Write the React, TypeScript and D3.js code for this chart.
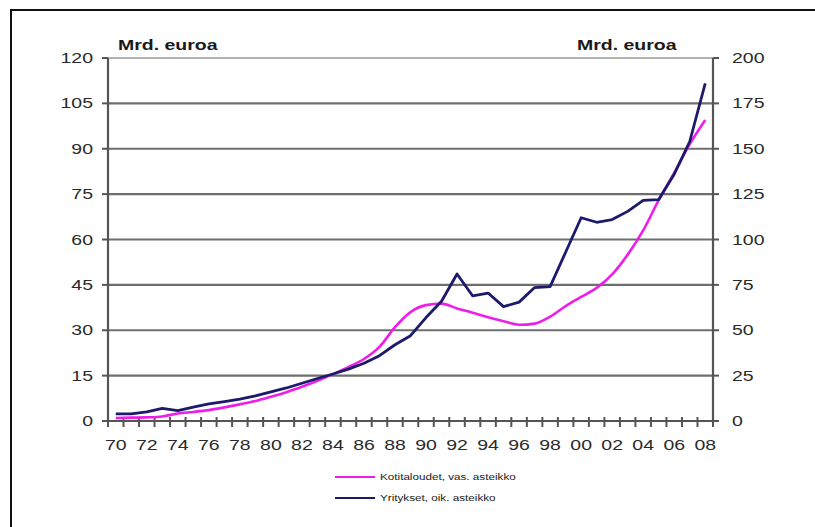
import { curveMonotoneX, curveLinear, line, range, scaleLinear, scalePoint, select } from "d3";
import { useEffect, useRef } from "react";

const years = range(1970, 2009);

// Kotitaloudet, left axis (Mrd. euroa)
const households = [
  1.0, 1.1, 1.2, 1.5, 2.5, 3.0, 3.6, 4.5, 5.5, 6.6, 8.0, 9.5, 11.3, 13.3, 15.5, 17.8, 20.5, 24.5, 31, 36,
  38.3, 38.8, 37.2, 35.8, 34.3, 33, 31.8, 32.2, 34.5, 38, 41, 44, 48.5, 55, 63, 73, 82, 91.5, 99.5,
];

// Yritykset, right axis (Mrd. euroa)
const companies = [
  3.9, 3.9, 5, 7, 5.7, 7.7, 9.4, 10.7, 12.1, 13.8, 16.1, 18.2, 20.8, 23.4, 25.9, 28.6, 31.8, 36, 42, 47,
  57, 66, 81, 69, 70.5, 63, 65.5, 73.5, 74, 93, 112, 109.5, 111, 115.5, 121.5, 122, 136, 154, 186,
];

const leftTicks = [0, 15, 30, 45, 60, 75, 90, 105, 120];
const rightTicks = [0, 25, 50, 75, 100, 125, 150, 175, 200];
const seriesNames = ["Kotitaloudet, vas. asteikko", "Yritykset, oik. asteikko"];
const unitLabel = "Mrd. euroa";

const FONT = "'Liberation Sans', Arial, sans-serif";
const PINK = "#ee1ee8";
const NAVY = "#1c1a6b";

const App = () => {
  const ref = useRef<SVGSVGElement>(null);

  useEffect(() => {
    if (!ref.current) return;
    const svg = select(ref.current);
    svg.selectAll("*").remove();

    const left = 108;
    const right = 713;
    const top = 58;
    const bottom = 421;

    const x = scalePoint<number>().domain(years).range([left, right]).padding(0.5);
    const step = x.step();
    const yL = scaleLinear().domain([0, 120]).range([bottom, top]);
    const yR = scaleLinear().domain([0, 200]).range([bottom, top]);

    // frame
    svg
      .append("rect")
      .attr("x", 11)
      .attr("y", 10)
      .attr("width", 830)
      .attr("height", 540)
      .attr("fill", "white")
      .attr("stroke", "#111")
      .attr("stroke-width", 2);

    // grid lines
    svg
      .append("g")
      .selectAll("line")
      .data(leftTicks.slice(1))
      .join("line")
      .attr("x1", left)
      .attr("x2", right)
      .attr("y1", (d) => yL(d))
      .attr("y2", (d) => yL(d))
      .attr("stroke", (d) => (d === 120 ? "#9a9a9a" : "#6e6e6e"))
      .attr("stroke-width", (d) => (d === 120 ? 1.5 : 2.2));

    const stretch = (g: any, xPos: number, yPos: number) => `translate(${xPos},${yPos}) scale(1.3,1)`;

    // left axis
    svg.append("line").attr("x1", left).attr("x2", left).attr("y1", top).attr("y2", bottom).attr("stroke", "#555").attr("stroke-width", 2.2);
    svg
      .append("g")
      .selectAll("line")
      .data(leftTicks)
      .join("line")
      .attr("x1", left - 6)
      .attr("x2", left)
      .attr("y1", (d) => yL(d))
      .attr("y2", (d) => yL(d))
      .attr("stroke", "#555")
      .attr("stroke-width", 2);
    svg
      .append("g")
      .selectAll("text")
      .data(leftTicks)
      .join("text")
      .attr("transform", (d) => stretch(null, 93, yL(d) + 5))
      .attr("text-anchor", "end")
      .attr("font-family", FONT)
      .attr("font-size", 15)
      .attr("fill", "#2a2a2a")
      .text((d) => d);

    // right axis
    svg.append("line").attr("x1", right).attr("x2", right).attr("y1", top).attr("y2", bottom).attr("stroke", "#555").attr("stroke-width", 2.2);
    svg
      .append("g")
      .selectAll("line")
      .data(rightTicks)
      .join("line")
      .attr("x1", right)
      .attr("x2", right + 6)
      .attr("y1", (d) => yR(d))
      .attr("y2", (d) => yR(d))
      .attr("stroke", "#555")
      .attr("stroke-width", 2);
    svg
      .append("g")
      .selectAll("text")
      .data(rightTicks)
      .join("text")
      .attr("transform", (d) => stretch(null, 732, yR(d) + 5))
      .attr("font-family", FONT)
      .attr("font-size", 15)
      .attr("fill", "#2a2a2a")
      .text((d) => d);

    // x axis
    svg.append("line").attr("x1", left).attr("x2", right).attr("y1", bottom).attr("y2", bottom).attr("stroke", "#555").attr("stroke-width", 2.2);
    svg
      .append("g")
      .selectAll("line")
      .data(range(years.length + 1))
      .join("line")
      .attr("x1", (i) => left + i * step)
      .attr("x2", (i) => left + i * step)
      .attr("y1", bottom - 4)
      .attr("y2", bottom + 6)
      .attr("stroke", "#555")
      .attr("stroke-width", 2);
    svg
      .append("g")
      .selectAll("text")
      .data(years.filter((y) => y % 2 === 0))
      .join("text")
      .attr("transform", (d) => stretch(null, x(d) as number, 450))
      .attr("text-anchor", "middle")
      .attr("font-family", FONT)
      .attr("font-size", 15)
      .attr("fill", "#2a2a2a")
      .text((d) => String(d % 100).padStart(2, "0"));

    // unit labels
    [118, 577].forEach((xPos) => {
      svg
        .append("text")
        .attr("transform", stretch(null, xPos, 50))
        .attr("font-family", FONT)
        .attr("font-size", 15)
        .attr("font-weight", "bold")
        .attr("fill", "#1a1a1a")
        .text(unitLabel);
    });

    // series
    const pinkLine = line<number>()
      .x((_, i) => x(years[i]) as number)
      .y((d) => yL(d))
      .curve(curveMonotoneX);
    const navyLine = line<number>()
      .x((_, i) => x(years[i]) as number)
      .y((d) => yR(d))
      .curve(curveLinear);

    svg.append("path").attr("d", pinkLine(households)).attr("fill", "none").attr("stroke", PINK).attr("stroke-width", 2.6);
    svg
      .append("path")
      .attr("d", navyLine(companies))
      .attr("fill", "none")
      .attr("stroke", NAVY)
      .attr("stroke-width", 2.8)
      .attr("stroke-linejoin", "round");

    // legend
    const legend = svg.append("g");
    [PINK, NAVY].forEach((color, i) => {
      const ly = 477 + i * 21;
      legend.append("line").attr("x1", 335).attr("x2", 375).attr("y1", ly).attr("y2", ly).attr("stroke", color).attr("stroke-width", 2);
      legend
        .append("text")
        .attr("transform", stretch(null, 380, ly + 3))
        .attr("font-family", FONT)
        .attr("font-size", 9)
        .attr("fill", "#222")
        .text(seriesNames[i]);
    });
  }, []);

  return <svg ref={ref} width={815} height={527} style={{ position: "absolute", left: 0, top: 0 }} />;
};

export default App;
